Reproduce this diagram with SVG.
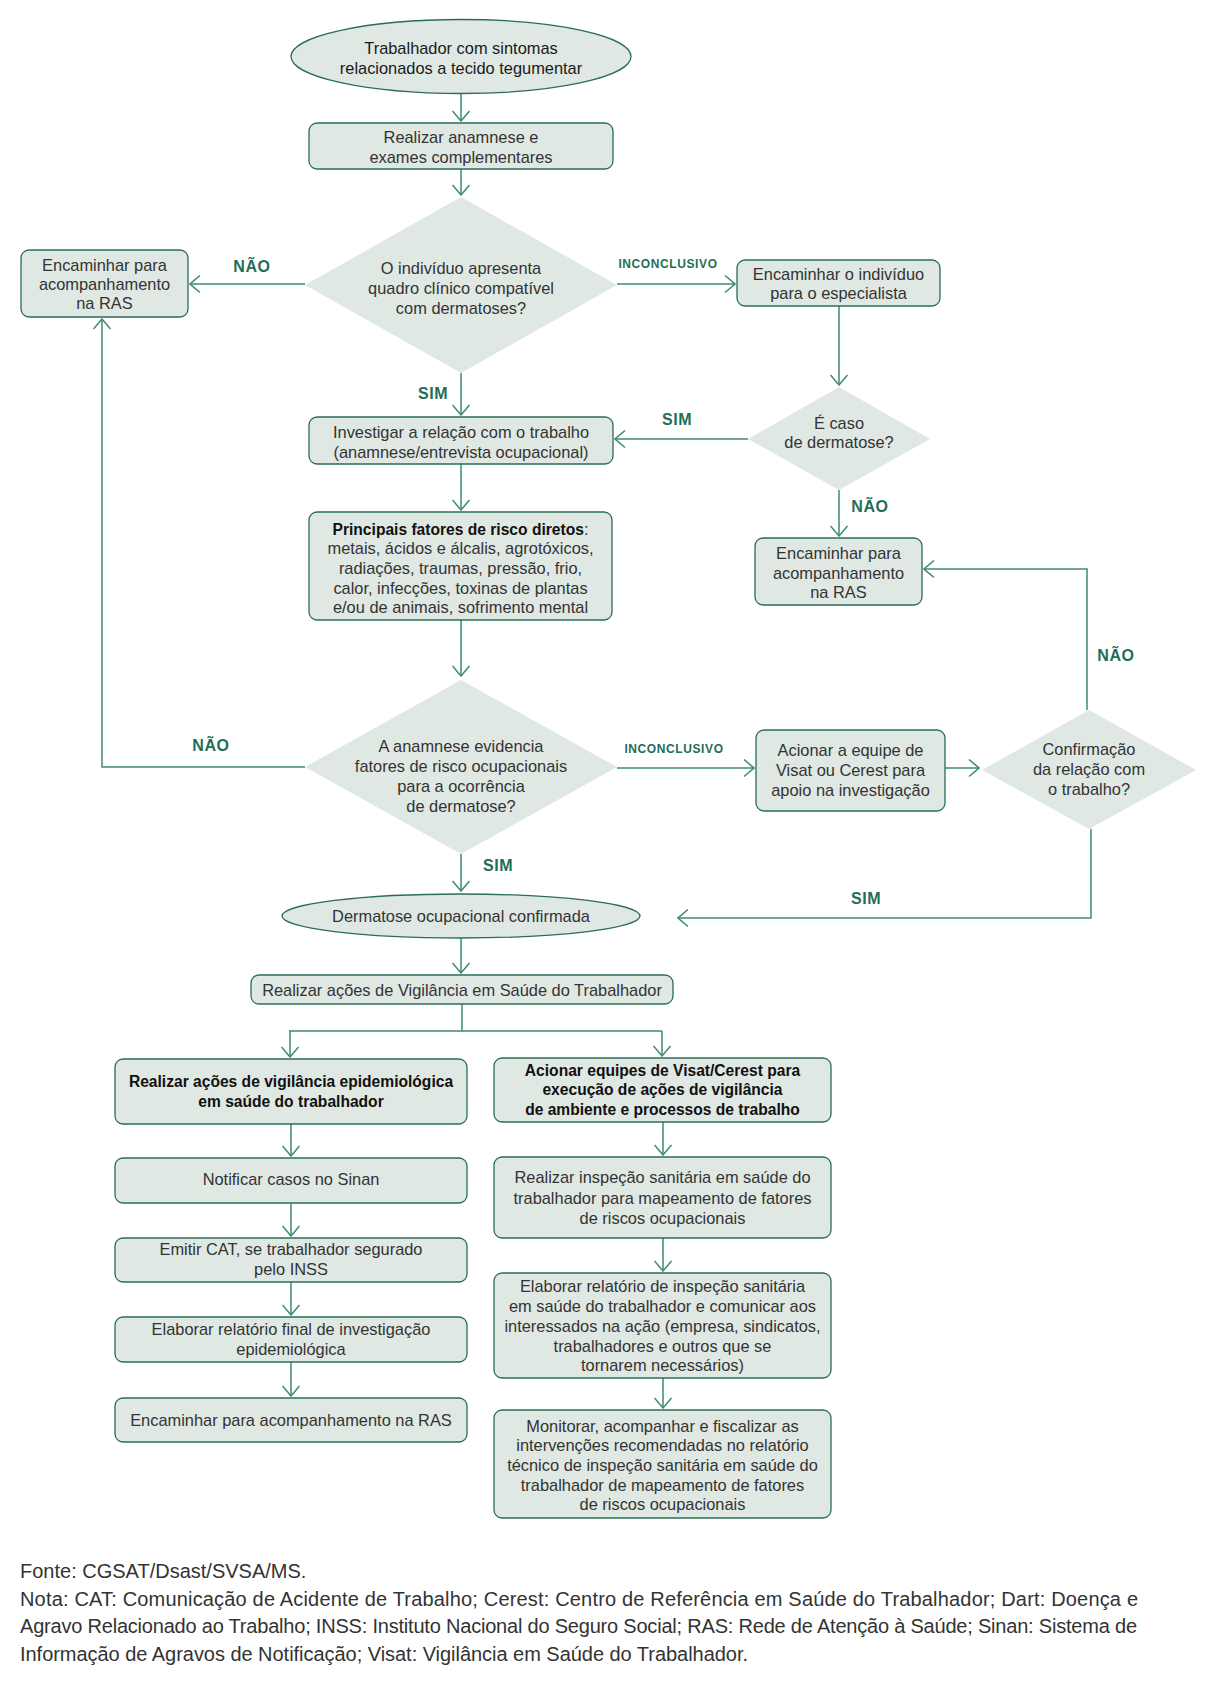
<svg xmlns="http://www.w3.org/2000/svg" width="1224" height="1688" viewBox="0 0 1224 1688">
<style>
.bg{fill:#ffffff}
.box{fill:#dfe8e3;stroke:#2b6d58;stroke-width:1.3}
.dia{fill:#dfe8e3}
.c{fill:none;stroke:#3f8a73;stroke-width:1.5}
.t{font-family:"Liberation Sans",Arial,sans-serif;font-size:16.4px;fill:#333333;text-anchor:middle}
.d{fill:#1a1a1a}
.b{font-weight:bold;fill:#111111;font-size:15.6px}
.lbl{font-family:"Liberation Sans",Arial,sans-serif;font-weight:bold;font-size:16px;fill:#1f6e58;text-anchor:middle;letter-spacing:0.6px}
.inc{font-size:12px;letter-spacing:0.6px}
.f{font-family:"Liberation Sans",Arial,sans-serif;font-size:20px;fill:#333333}
</style>
<defs>
<marker id="ah" viewBox="0 0 12 19" refX="11" refY="9.5" markerWidth="12" markerHeight="19" markerUnits="userSpaceOnUse" orient="auto">
<path d="M1,1 L11,9.5 L1,18" fill="none" stroke="#3f8a73" stroke-width="1.5"/>
</marker>
</defs>
<rect class="bg" x="0" y="0" width="1224" height="1688"/>

<g id="connectors">
<path class="c" d="M461,94 V121" marker-end="url(#ah)"/>
<path class="c" d="M461,169 V195" marker-end="url(#ah)"/>
<path class="c" d="M305,284 H190" marker-end="url(#ah)"/>
<path class="c" d="M617,284 H735" marker-end="url(#ah)"/>
<path class="c" d="M839,306 V385" marker-end="url(#ah)"/>
<path class="c" d="M748,439 H615" marker-end="url(#ah)"/>
<path class="c" d="M461,373 V415" marker-end="url(#ah)"/>
<path class="c" d="M461,464 V510" marker-end="url(#ah)"/>
<path class="c" d="M461,620 V676" marker-end="url(#ah)"/>
<path class="c" d="M305,767 H102 V319" marker-end="url(#ah)"/>
<path class="c" d="M617,768 H754" marker-end="url(#ah)"/>
<path class="c" d="M945,768 H979" marker-end="url(#ah)"/>
<path class="c" d="M1087,710 V569 H924" marker-end="url(#ah)"/>
<path class="c" d="M839,490 V536" marker-end="url(#ah)"/>
<path class="c" d="M1091,829 V918 H678" marker-end="url(#ah)"/>
<path class="c" d="M461,854 V891" marker-end="url(#ah)"/>
<path class="c" d="M461,938 V973" marker-end="url(#ah)"/>
<path class="c" d="M462,1004 V1031 M289,1031 H662"/>
<path class="c" d="M290,1031 V1057" marker-end="url(#ah)"/>
<path class="c" d="M662,1031 V1056" marker-end="url(#ah)"/>
<path class="c" d="M291,1124 V1156" marker-end="url(#ah)"/>
<path class="c" d="M291,1203 V1236" marker-end="url(#ah)"/>
<path class="c" d="M291,1282 V1315" marker-end="url(#ah)"/>
<path class="c" d="M291,1362 V1396" marker-end="url(#ah)"/>
<path class="c" d="M663,1122 V1155" marker-end="url(#ah)"/>
<path class="c" d="M663,1238 V1271" marker-end="url(#ah)"/>
<path class="c" d="M663,1378 V1408" marker-end="url(#ah)"/>
</g>

<g id="labels">
<text class="lbl" x="252" y="272">NÃO</text>
<text class="lbl inc" x="668" y="268">INCONCLUSIVO</text>
<text class="lbl" x="677" y="425">SIM</text>
<text class="lbl" x="433" y="399">SIM</text>
<text class="lbl" x="870" y="512">NÃO</text>
<text class="lbl" x="211" y="751">NÃO</text>
<text class="lbl inc" x="674" y="753">INCONCLUSIVO</text>
<text class="lbl" x="1116" y="661">NÃO</text>
<text class="lbl" x="866" y="904">SIM</text>
<text class="lbl" x="498" y="871">SIM</text>
</g>

<g id="n-inicio">
<ellipse class="box" cx="461" cy="56.5" rx="170" ry="37"/>
<text class="t d" x="461" y="53.5">Trabalhador com sintomas</text>
<text class="t d" x="461" y="73.5">relacionados a tecido tegumentar</text>
</g>

<g id="n-anamnese">
<rect class="box" x="309" y="123" width="304" height="46" rx="8"/>
<text class="t" x="461" y="142.5">Realizar anamnese e</text>
<text class="t" x="461" y="162.5">exames complementares</text>
</g>

<g id="n-dec1">
<polygon class="dia" points="461,197 617,285 461,373 305,285"/>
<text class="t" x="461" y="273.5">O indivíduo apresenta</text>
<text class="t" x="461" y="293.5">quadro clínico compatível</text>
<text class="t" x="461" y="313.5">com dermatoses?</text>
</g>

<g id="n-ras1">
<rect class="box" x="21" y="250" width="167" height="67" rx="8"/>
<text class="t" x="104.5" y="270.5">Encaminhar para</text>
<text class="t" x="104.5" y="289.5">acompanhamento</text>
<text class="t" x="104.5" y="308.5">na RAS</text>
</g>

<g id="n-especialista">
<rect class="box" x="737" y="260" width="203" height="46" rx="8"/>
<text class="t" x="838.5" y="279.5">Encaminhar o indivíduo</text>
<text class="t" x="838.5" y="298.5">para o especialista</text>
</g>

<g id="n-dec2">
<polygon class="dia" points="839,387 930,439 839,490 748,439"/>
<text class="t" x="839" y="428.5">É caso</text>
<text class="t" x="839" y="447.5">de dermatose?</text>
</g>

<g id="n-investigar">
<rect class="box" x="309" y="417" width="304" height="47" rx="8"/>
<text class="t" x="461" y="437.5">Investigar a relação com o trabalho</text>
<text class="t" x="461" y="457.5">(anamnese/entrevista ocupacional)</text>
</g>

<g id="n-fatores">
<rect class="box" x="309" y="512" width="303" height="108" rx="8"/>
<text class="t" x="460.5" y="534.5"><tspan class="b">Principais fatores de risco diretos</tspan>:</text>
<text class="t" x="460.5" y="554">metais, ácidos e álcalis, agrotóxicos,</text>
<text class="t" x="460.5" y="573.5">radiações, traumas, pressão, frio,</text>
<text class="t" x="460.5" y="593.5">calor, infecções, toxinas de plantas</text>
<text class="t" x="460.5" y="612.5">e/ou de animais, sofrimento mental</text>
</g>

<g id="n-ras2">
<rect class="box" x="755" y="538" width="167" height="67" rx="8"/>
<text class="t" x="838.5" y="558.5">Encaminhar para</text>
<text class="t" x="838.5" y="578.5">acompanhamento</text>
<text class="t" x="838.5" y="597.5">na RAS</text>
</g>

<g id="n-dec3">
<polygon class="dia" points="461,680 617,767 461,854 305,767"/>
<text class="t" x="461" y="751.5">A anamnese evidencia</text>
<text class="t" x="461" y="771.5">fatores de risco ocupacionais</text>
<text class="t" x="461" y="791.5">para a ocorrência</text>
<text class="t" x="461" y="811.5">de dermatose?</text>
</g>

<g id="n-acionar">
<rect class="box" x="756" y="730" width="189" height="81" rx="8"/>
<text class="t" x="850.5" y="755.5">Acionar a equipe de</text>
<text class="t" x="850.5" y="775.5">Visat ou Cerest para</text>
<text class="t" x="850.5" y="795.5">apoio na investigação</text>
</g>

<g id="n-dec4">
<polygon class="dia" points="1089,710 1196,770 1089,829 982,770"/>
<text class="t" x="1089" y="754.5">Confirmação</text>
<text class="t" x="1089" y="774.5">da relação com</text>
<text class="t" x="1089" y="794.5">o trabalho?</text>
</g>

<g id="n-confirmada">
<ellipse class="box" cx="461" cy="916" rx="179" ry="22"/>
<text class="t" x="461" y="921.5">Dermatose ocupacional confirmada</text>
</g>

<g id="n-vigilancia">
<rect class="box" x="251" y="975" width="422" height="29" rx="8"/>
<text class="t" x="462" y="996">Realizar ações de Vigilância em Saúde do Trabalhador</text>
</g>

<g id="n-epi">
<rect class="box" x="115" y="1059" width="352" height="65" rx="8"/>
<text class="t b" x="291" y="1086.5">Realizar ações de vigilância epidemiológica</text>
<text class="t b" x="291" y="1106.5">em saúde do trabalhador</text>
</g>

<g id="n-visat">
<rect class="box" x="494" y="1058" width="337" height="64" rx="8"/>
<text class="t b" x="662.5" y="1075.5">Acionar equipes de Visat/Cerest para</text>
<text class="t b" x="662.5" y="1094.5">execução de ações de vigilância</text>
<text class="t b" x="662.5" y="1114.5">de ambiente e processos de trabalho</text>
</g>

<g id="n-sinan">
<rect class="box" x="115" y="1158" width="352" height="45" rx="8"/>
<text class="t" x="291" y="1184.5">Notificar casos no Sinan</text>
</g>

<g id="n-cat">
<rect class="box" x="115" y="1238" width="352" height="44" rx="8"/>
<text class="t" x="291" y="1254.5">Emitir CAT, se trabalhador segurado</text>
<text class="t" x="291" y="1274.5">pelo INSS</text>
</g>

<g id="n-relfinal">
<rect class="box" x="115" y="1317" width="352" height="45" rx="8"/>
<text class="t" x="291" y="1334.5">Elaborar relatório final de investigação</text>
<text class="t" x="291" y="1354.5">epidemiológica</text>
</g>

<g id="n-ras3">
<rect class="box" x="115" y="1398" width="352" height="44" rx="8"/>
<text class="t" x="291" y="1425.5">Encaminhar para acompanhamento na RAS</text>
</g>

<g id="n-inspecao">
<rect class="box" x="494" y="1157" width="337" height="81" rx="8"/>
<text class="t" x="662.5" y="1182.5">Realizar inspeção sanitária em saúde do</text>
<text class="t" x="662.5" y="1203.5">trabalhador para mapeamento de fatores</text>
<text class="t" x="662.5" y="1223.5">de riscos ocupacionais</text>
</g>

<g id="n-relinspecao">
<rect class="box" x="494" y="1273" width="337" height="105" rx="8"/>
<text class="t" x="662.5" y="1291.5">Elaborar relatório de inspeção sanitária</text>
<text class="t" x="662.5" y="1311.5">em saúde do trabalhador e comunicar aos</text>
<text class="t" x="662.5" y="1331.5">interessados na ação (empresa, sindicatos,</text>
<text class="t" x="662.5" y="1351.5">trabalhadores e outros que se</text>
<text class="t" x="662.5" y="1370.5">tornarem necessários)</text>
</g>

<g id="n-monitorar">
<rect class="box" x="494" y="1410" width="337" height="108" rx="8"/>
<text class="t" x="662.5" y="1431.5">Monitorar, acompanhar e fiscalizar as</text>
<text class="t" x="662.5" y="1450.5">intervenções recomendadas no relatório</text>
<text class="t" x="662.5" y="1470.5">técnico de inspeção sanitária em saúde do</text>
<text class="t" x="662.5" y="1490.5">trabalhador de mapeamento de fatores</text>
<text class="t" x="662.5" y="1509.5">de riscos ocupacionais</text>
</g>

<g id="footer">
<text class="f" x="20" y="1578">Fonte: CGSAT/Dsast/SVSA/MS.</text>
<text class="f" x="20" y="1606" textLength="1118" lengthAdjust="spacing">Nota: CAT: Comunicação de Acidente de Trabalho; Cerest: Centro de Referência em Saúde do Trabalhador; Dart: Doença e</text>
<text class="f" x="20" y="1633" textLength="1117" lengthAdjust="spacing">Agravo Relacionado ao Trabalho; INSS: Instituto Nacional do Seguro Social; RAS: Rede de Atenção à Saúde; Sinan: Sistema de</text>
<text class="f" x="20" y="1661" textLength="728" lengthAdjust="spacing">Informação de Agravos de Notificação; Visat: Vigilância em Saúde do Trabalhador.</text>
</g>
</svg>
